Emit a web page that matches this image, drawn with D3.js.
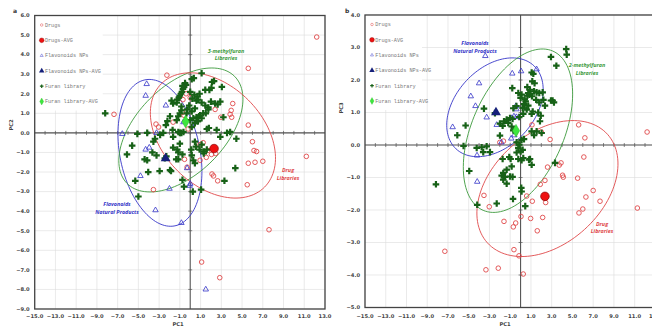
<!DOCTYPE html>
<html>
<head>
<meta charset="utf-8">
<script src="https://cdn.jsdelivr.net/npm/d3@7"></script>
<style>
  body { margin: 0; background: #fff; }
  svg { display: block; }
</style>
</head>
<body>
<svg id="chart" width="652" height="329"></svg>
<script>
// ---- tick labels ----
const xTickLabels = [-15, -13, -11, -9, -7, -5, -3, -1, 1, 3, 5, 7, 9, 11, 13];
const yTickLabelsA = [6, 5, 4, 3, 2, 1, 0, -1, -2, -3, -4, -5, -6, -7, -8, -9];
const yTickLabelsB = [4, 3, 2, 1, 0, -1, -2, -3, -4, -5];

const legendLabels = ['Drugs', 'Drugs-AVG', 'Flavonoids NPs', 'Flavonoids NPs-AVG', 'Furan library', 'Furan library-AVG'];

// ---- panel a: PC1 / PC2 ----
const drugsA = [
  [12.2, 4.9], [5.6, 3.3], [-2.25, 2.95], [4.1, 1.5], [3.85, 0.95], [4.0, 0.8], [3.95, 1.15],
  [2.4, 1.2], [0.0, 1.8], [-0.7, 1.7], [-0.6, 0.9], [-0.75, 1.05], [-1.65, 0.55], [-3.3, 0.45],
  [-3.05, 0.3], [-7.35, 0.95], [-0.2, 0.2], [2.95, 0.8], [5.6, 0.4], [6.0, -0.45], [6.15, -0.9],
  [6.4, -0.95], [11.2, -1.2], [1.25, -0.5], [0.95, -0.6], [1.7, -0.9], [2.05, -1.1], [2.45, -1.05],
  [1.55, -1.25], [0.95, -1.4], [-0.55, -1.35], [-0.3, -1.75], [5.6, -1.55], [6.25, -1.5], [7.0, -1.45],
  [2.1, -2.1], [2.25, -2.2], [2.65, -2.45], [5.5, -2.65], [-3.55, -2.9], [7.6, -4.95], [1.1, -6.6],
  [2.85, -7.4], [-0.4, 2.0]
];
const drugsAvgA = [[2.3, -0.8]];
const flavA = [
  [-4.2, 2.5], [-4.3, 1.9], [-2.35, 1.4], [-0.65, 0.55], [-6.55, -0.05], [-3.25, 0.0], [-3.95, -0.75],
  [-4.3, -0.85], [-4.8, -2.2], [-2.0, -2.85], [-0.3, -1.8], [-0.05, -2.7], [0.0, -2.6], [-3.35, -3.95],
  [-0.85, -4.6], [1.5, -8.0]
];
const flavAvgA = [[-2.37, -1.3]];
const furanA = [
  [1.1, 3.05], [0.15, 2.75], [0.35, 2.8], [3.05, 2.35], [2.1, 2.6], [2.3, 2.65], [1.85, 2.2], [2.05, 2.3],
  [-0.5, 2.55], [-0.4, 2.45], [-0.6, 2.35], [-0.7, 2.25], [-0.8, 2.1], [-0.9, 2.0], [-1.0, 1.9], [-1.1, 1.8],
  [-1.25, 1.7], [-0.75, 2.4], [-1.8, 1.65], [-1.65, 1.5], [-1.3, 1.55], [-0.85, 1.35],
  [0.0, 2.1], [0.4, 1.95], [0.7, 1.85], [0.9, 2.0], [0.2, 1.75], [0.6, 1.65], [1.45, 2.2],
  [0.75, 1.7], [1.1, 1.55], [1.45, 1.4], [1.75, 1.3], [2.0, 1.6], [2.4, 1.5], [2.65, 1.45], [2.9, 1.6],
  [1.75, 1.2], [1.5, 1.0], [0.45, 1.25], [0.15, 1.1], [-0.3, 1.2], [-0.1, 1.4], [-0.35, 1.0],
  [1.25, 1.0], [0.95, 0.9], [0.6, 0.8], [0.3, 0.75], [0.0, 0.65], [0.85, 0.85], [1.1, 0.75], [0.7, 0.6],
  [3.2, 0.8], [-0.85, 1.15], [-1.0, 1.0], [-1.15, 0.85], [-1.3, 0.65], [-1.95, 0.85], [-2.2, 0.6], [-2.35, 0.4],
  [0.75, 0.6], [0.45, 0.5], [0.15, 0.3], [1.6, 0.2], [1.8, 0.25], [2.55, 0.15], [3.85, 0.05], [2.9, -0.2],
  [3.55, 0.0], [4.45, -0.3], [-1.7, 0.15], [-1.65, -0.2], [-1.15, 0.05], [-0.85, 0.0], [-0.65, 0.05],
  [-1.0, 0.0], [-2.6, 0.0], [-2.9, -0.1], [-4.15, 0.0], [-5.1, -0.05], [-3.4, -0.3], [-3.55, -0.45],
  [-5.6, -0.65], [-6.1, -1.1], [-8.2, 1.0], [-1.25, -0.85], [-1.65, -0.75], [-1.0, -0.55], [-0.75, -1.1],
  [-1.15, -1.0], [-3.25, -1.15], [-3.65, -1.0], [-1.15, -1.35], [-1.35, -1.35], [0.15, -1.15], [0.3, -1.4],
  [0.45, -1.55], [0.1, -0.85], [1.1, -0.6], [1.6, -0.85], [1.3, -1.05], [0.45, -0.45], [0.55, -0.7],
  [0.9, -0.85], [1.3, -0.95], [-4.15, -1.4], [-4.4, -1.35], [-4.05, -2.0], [-2.95, -1.95], [-1.95, -1.9],
  [-1.85, -1.95], [-0.75, -2.4], [-0.6, -2.75], [0.25, -3.0], [1.05, -2.9], [3.3, -2.45], [4.35, -1.8],
  [-5.3, -2.45], [-5.0, -3.25], [-2.3, -1.2], [-2.45, -1.3]
];
const furanAvgA = [[-0.45, 0.58]];

// ---- panel b: PC1 / PC3 ----
const drugsB = [
  [1.1, 0.62], [2.0, 0.4], [2.85, 0.17], [5.6, 0.62], [6.2, 0.22], [12.2, 0.4], [6.1, -0.37], [3.9, -0.55],
  [3.73, -0.62], [4.05, -0.93], [4.12, -0.99], [5.5, -1.02], [7.0, -1.4], [6.3, -1.6], [7.66, -1.73],
  [6.0, -1.97], [5.63, -2.09], [11.26, -1.94], [2.6, -0.68], [2.35, -1.09], [1.9, -1.21], [2.42, -1.77],
  [1.13, -1.73], [0.59, -1.57], [2.13, -2.23], [0.97, -2.26], [1.61, -2.64], [0.04, -2.2], [-0.47, -2.4],
  [-0.7, -2.52], [-1.6, -2.35], [-3.53, -1.55], [-3.02, -1.9], [-7.3, -3.27], [-0.64, -3.22], [-0.15, -3.41],
  [-3.34, -3.84], [-2.15, -3.79], [0.26, -3.97], [-1.65, 0.12], [-2.0, 0.08]
];
const drugsAvgB = [[2.35, -1.58]];
const flavB = [
  [-3.4, 2.74], [-0.8, 2.2], [0.05, 2.27], [1.55, 2.33], [-4.0, 1.9], [-4.8, 1.5], [-4.35, 1.2],
  [-3.27, 0.85], [-2.3, 0.62], [-0.86, 0.83], [-0.64, 0.88], [-0.4, 0.86], [-0.4, 1.1], [-0.45, 1.2],
  [-1.85, 0.08], [-6.55, 0.55], [-4.2, -0.32], [-4.18, -1.13], [-0.6, 0.3], [-0.9, 0.2]
];
const flavAvgB = [[-2.37, 1.0]];
const furanB = [
  [4.4, 2.95], [4.45, 2.78], [2.93, 2.71], [3.45, 2.44], [1.07, 2.23], [1.23, 2.19], [1.13, 1.96], [1.35, 1.9],
  [0.65, 1.78], [0.9, 1.7], [1.3, 1.65], [1.55, 1.62], [1.8, 1.6], [2.13, 1.62], [1.1, 1.5], [0.85, 1.55],
  [-0.22, 1.6], [0.1, 1.55], [0.65, 1.52], [0.74, 1.6], [0.4, 1.4], [0.0, 1.45], [1.5, 1.39], [1.8, 1.31],
  [2.2, 1.39], [2.93, 1.37], [3.09, 1.37], [3.22, 1.31], [2.35, 1.21], [0.49, 1.34], [0.33, 1.26], [0.74, 1.21],
  [0.59, 1.09], [0.26, 0.96], [-0.13, 0.86], [0.2, 1.14], [-0.4, 1.2], [-0.7, 1.13], [1.17, 1.03], [1.07, 0.96],
  [1.87, 0.73], [1.7, 1.0], [1.95, 0.9], [-3.53, 1.12], [-2.47, 0.98], [-0.8, 1.75], [-1.34, 0.78], [-1.6, 0.73],
  [-1.99, 0.66], [-1.73, 0.59], [-1.19, 0.68], [-1.02, 0.83], [-0.77, 0.8], [-0.86, 0.57], [-0.7, 0.45],
  [-6.1, 0.3], [-5.3, 0.6], [-5.5, -0.03], [-4.23, -0.09], [-3.75, -0.07], [-3.6, -0.22], [-3.27, -0.04],
  [-2.95, -0.22], [-1.99, 0.29], [-0.38, 0.08], [-0.13, 0.01], [0.1, 0.16], [0.33, 0.18], [1.07, 0.42],
  [1.55, 0.42], [2.03, 0.37], [1.3, 0.3], [-0.22, -0.09], [0.01, -0.2], [0.2, -0.15], [-0.38, -0.23],
  [0.26, -0.4], [-0.22, -0.43], [0.1, -0.47], [0.91, -0.43], [1.07, -0.61], [0.81, -0.45], [-1.73, -0.43],
  [-0.96, -0.43], [-1.09, -0.37], [-0.86, -0.66], [-1.34, -0.76], [-4.95, -0.8], [-1.82, -0.94], [-1.5, -0.98],
  [-1.67, -0.86], [-1.02, -0.97], [-0.77, -0.98], [-1.34, -1.19], [-1.67, -1.07], [-8.16, -1.21], [0.07, -1.32],
  [0.1, -1.43], [0.45, -1.88], [-2.3, -1.8], [-0.73, -1.66], [-4.18, -1.84], [3.32, -0.55]
];
const furanAvgB = [[-0.44, 0.44]];

// confidence ellipses: centre, semi-axis u, semi-axis v (data units)
const ellipsesA = [
  { key: 'flav', c: [-2.92, -1.02], u: [-1.45, 3.73], v: [3.78, 0.41] },
  { key: 'furan', c: [-0.9, 0.15], u: [5.18, 2.74], v: [3.0, -1.59] },
  { key: 'drug', c: [2.19, -0.13], u: [4.98, -2.64], v: [3.41, 1.81] }
];
const ellipsesB = [
  { key: 'flav', c: [-2.47, 1.16], u: [3.75, 1.28], v: [2.75, -0.82] },
  { key: 'furan', c: [-0.25, 0.44], u: [3.36, 2.45], v: [4.06, -0.566] },
  { key: 'drug', c: [2.59, -1.34], u: [5.79, 1.67], v: [3.57, -1.26] }
];

const colors = {
  drug: '#e0484a', drugAvg: '#ee1111', flav: '#3535c8', flavAvg: '#15207a',
  furan: '#176117', furanAvg: '#3ee63e', furanEllipse: '#3c9a3c'
};

const svg = d3.select('#chart');

const panels = [
  {
    tag: 'a', xr: [34.7, 325], yr: [309, 15.5], yDomain: [-9, 6], yTicks: yTickLabelsA,
    xTitleX: 178, yTitle: 'PC2', yTitlePos: [13, 125], tagPos: [13, 13], legendW: 68,
    drugs: drugsA, drugsAvg: drugsAvgA, flav: flavA, flavAvg: flavAvgA, furan: furanA, furanAvg: furanAvgA,
    ellipses: ellipsesA,
    notes: [
      { lines: ['3-methylfuran', 'Libraries'], at: [226, 52.5], color: colors.furanEllipse },
      { lines: ['Drug', 'Libraries'], at: [288, 172], color: colors.drug },
      { lines: ['Flavonoids', 'Natural Products'], at: [117, 206], color: colors.flav }
    ]
  },
  {
    tag: 'b', xr: [365, 655.4], yr: [307.5, 15], yDomain: [-5, 4], yTicks: yTickLabelsB,
    xTitleX: 505, yTitle: 'PC3', yTitlePos: [343, 108], tagPos: [345, 13], legendW: 57,
    drugs: drugsB, drugsAvg: drugsAvgB, flav: flavB, flavAvg: flavAvgB, furan: furanB, furanAvg: furanAvgB,
    ellipses: ellipsesB,
    notes: [
      { lines: ['Flavonoids', 'Natural Products'], at: [475, 45], color: colors.flav },
      { lines: ['2-methylfuran', 'Libraries'], at: [587, 67], color: colors.furanEllipse },
      { lines: ['Drug', 'Libraries'], at: [602, 225.5], color: colors.drug }
    ]
  }
];

function marker(sel, kind) {
  if (kind === 'drug') {
    sel.append('circle').attr('r', 2.3).attr('fill', 'none').attr('stroke', colors.drug).attr('stroke-width', 0.9);
  } else if (kind === 'drugAvg') {
    sel.append('circle').attr('r', 4.3).attr('fill', colors.drugAvg).attr('stroke', '#8a0a0a').attr('stroke-width', 0.7);
  } else if (kind === 'flav') {
    sel.append('path').attr('d', d3.symbol(d3.symbolTriangle, 13)).attr('fill', 'none')
      .attr('stroke', colors.flav).attr('stroke-width', 0.8);
  } else if (kind === 'flavAvg') {
    sel.append('path').attr('d', d3.symbol(d3.symbolTriangle, 42)).attr('fill', colors.flavAvg);
  } else if (kind === 'furan') {
    sel.append('path').attr('d', d3.symbol(d3.symbolCross, 24)).attr('fill', colors.furan);
  } else if (kind === 'furanAvg') {
    sel.append('path').attr('d', d3.symbol(d3.symbolDiamond, 46)).attr('fill', colors.furanAvg)
      .attr('stroke', '#22b022').attr('stroke-width', 0.5);
  }
}

panels.forEach((p) => {
  const x = d3.scaleLinear().domain([-15, 13]).range(p.xr);
  const y = d3.scaleLinear().domain(p.yDomain).range(p.yr);
  const g = svg.append('g');

  // gridlines
  g.append('g').selectAll('line').data(xTickLabels).join('line')
    .attr('x1', (d) => x(d)).attr('x2', (d) => x(d)).attr('y1', p.yr[1]).attr('y2', p.yr[0])
    .attr('stroke', '#dcdcdc').attr('stroke-width', 0.6);
  g.append('g').selectAll('line').data(p.yTicks).join('line')
    .attr('x1', p.xr[0]).attr('x2', p.xr[1]).attr('y1', (d) => y(d)).attr('y2', (d) => y(d))
    .attr('stroke', '#dcdcdc').attr('stroke-width', 0.6);

  // legend background hides the grid
  g.append('rect').attr('x', p.xr[0]).attr('y', p.yr[1]).attr('width', p.legendW).attr('height', 95).attr('fill', '#fff');

  // zero axes with crossing ticks
  const axes = g.append('g').attr('stroke', '#555');
  axes.append('line').attr('x1', p.xr[0]).attr('x2', p.xr[1]).attr('y1', y(0)).attr('y2', y(0)).attr('stroke-width', 1.1);
  axes.append('line').attr('x1', x(0)).attr('x2', x(0)).attr('y1', p.yr[1]).attr('y2', p.yr[0]).attr('stroke-width', 1.1);
  axes.selectAll('line.xt').data(d3.range(-14, 13)).join('line').attr('class', 'xt')
    .attr('x1', (d) => x(d)).attr('x2', (d) => x(d)).attr('y1', y(0) - 2).attr('y2', y(0) + 2).attr('stroke-width', 0.7);
  axes.selectAll('line.yt').data(d3.range(p.yDomain[0] + 1, p.yDomain[1])).join('line').attr('class', 'yt')
    .attr('x1', x(0) - 2).attr('x2', x(0) + 2).attr('y1', (d) => y(d)).attr('y2', (d) => y(d)).attr('stroke-width', 0.7);

  // frame
  g.append('rect').attr('x', p.xr[0]).attr('y', p.yr[1]).attr('width', p.xr[1] - p.xr[0]).attr('height', p.yr[0] - p.yr[1])
    .attr('fill', 'none').attr('stroke', '#444').attr('stroke-width', 1.3);

  // ellipses
  const line = d3.line().x((d) => x(d[0])).y((d) => y(d[1])).curve(d3.curveLinearClosed);
  const ecol = { flav: colors.flav, furan: colors.furanEllipse, drug: colors.drug };
  p.ellipses.forEach((e) => {
    const pts = d3.range(0, 2 * Math.PI, Math.PI / 60).map((t) => [
      e.c[0] + e.u[0] * Math.cos(t) + e.v[0] * Math.sin(t),
      e.c[1] + e.u[1] * Math.cos(t) + e.v[1] * Math.sin(t)
    ]);
    g.append('path').attr('d', line(pts)).attr('fill', 'none').attr('stroke', ecol[e.key]).attr('stroke-width', 0.9);
  });

  // points
  const series = [
    ['drug', p.drugs], ['flav', p.flav], ['furan', p.furan],
    ['drugAvg', p.drugsAvg], ['flavAvg', p.flavAvg], ['furanAvg', p.furanAvg]
  ];
  series.forEach(([kind, data]) => {
    g.append('g').selectAll('g').data(data).join('g')
      .attr('transform', (d) => `translate(${x(d[0])},${y(d[1])})`)
      .each(function () { marker(d3.select(this), kind); });
  });

  // tick labels
  g.append('g').selectAll('text').data(xTickLabels).join('text')
    .attr('x', (d) => x(d)).attr('y', 318).attr('text-anchor', 'middle')
    .attr('font-family', 'DejaVu Sans').attr('font-size', 5.2).attr('font-weight', 'bold').attr('fill', '#444')
    .text((d) => d3.format('.1f')(d));
  g.append('g').selectAll('text').data(p.yTicks).join('text')
    .attr('x', p.xr[0] - 5).attr('y', (d) => y(d) + 1.8).attr('text-anchor', 'end')
    .attr('font-family', 'DejaVu Sans').attr('font-size', 5.2).attr('font-weight', 'bold').attr('fill', '#444')
    .text((d) => d3.format('.1f')(d));

  // axis titles
  g.append('text').attr('x', p.xTitleX).attr('y', 326).attr('text-anchor', 'middle')
    .attr('font-family', 'DejaVu Sans').attr('font-size', 5.2).attr('font-weight', 'bold').attr('fill', '#444').text('PC1');
  g.append('text').attr('transform', `translate(${p.yTitlePos[0]},${p.yTitlePos[1]}) rotate(-90)`).attr('text-anchor', 'middle')
    .attr('font-family', 'DejaVu Sans').attr('font-size', 5.2).attr('font-weight', 'bold').attr('fill', '#444').text(p.yTitle);
  g.append('text').attr('x', p.tagPos[0]).attr('y', p.tagPos[1]).attr('font-family', 'DejaVu Sans')
    .attr('font-size', 6).attr('font-weight', 'bold').attr('fill', '#333').text(p.tag);

  // group notes
  p.notes.forEach((n) => {
    g.append('text').attr('x', n.at[0]).attr('y', n.at[1]).attr('text-anchor', 'middle')
      .attr('font-family', 'Open Sans').attr('font-style', 'italic').attr('font-weight', 'bold')
      .attr('font-size', 5.4).attr('fill', n.color)
      .selectAll('tspan').data(n.lines).join('tspan')
      .attr('x', n.at[0]).attr('dy', (d, i) => (i ? 7.5 : 0)).text((d) => d);
  });

  // legend
  const kinds = ['drug', 'drugAvg', 'flav', 'flavAvg', 'furan', 'furanAvg'];
  const lg = g.append('g').attr('transform', `translate(${p.xr[0] + 7},${p.yr[1] + 9.5})`);
  legendLabels.forEach((label, i) => {
    const row = lg.append('g').attr('transform', `translate(0,${i * 15.3})`);
    const m = row.append('g').attr('transform', 'scale(0.55)');
    marker(m, kinds[i]);
    row.append('text').attr('x', 3.2).attr('y', 1.8).attr('font-family', 'Liberation Mono')
      .attr('font-size', 5.2).attr('fill', '#777').text(label);
  });
});
</script>
</body>
</html>
